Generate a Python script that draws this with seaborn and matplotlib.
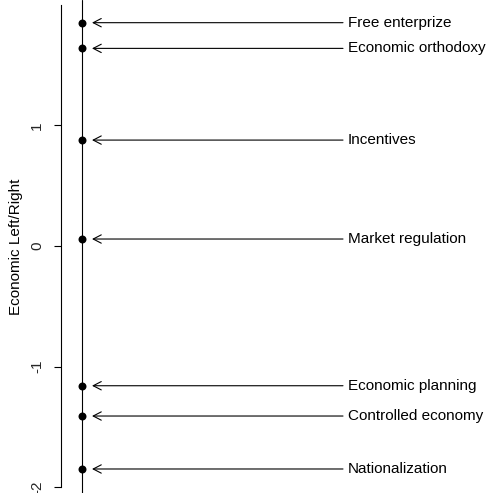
import matplotlib
matplotlib.use("Agg")
import matplotlib.pyplot as plt
import seaborn as sns
import numpy as np

labels = ["Free enterprize", "Economic orthodoxy", "Incentives", "Market regulation",
          "Economic planning", "Controlled economy", "Nationalization"]
scores = [1.851, 1.638, 0.878, 0.058, -1.158, -1.409, -1.848]
yticks = [-2, -1, 0, 1]

sns.set_theme(style="white")
plt.rcParams["font.family"] = ["Liberation Sans", "DejaVu Sans"]

fig = plt.figure(figsize=(4.9, 4.93), dpi=100)
ax = fig.add_axes([61 / 490, 0, 1 - 61 / 490, 1])

ax.axvline(0, color="black", lw=0.8, zorder=1)
sns.scatterplot(x=np.zeros(len(scores)), y=scores, color="black", s=33,
                edgecolor="black", linewidth=0, ax=ax, zorder=3)

for lab, val in zip(labels, scores):
    ax.annotate("", xy=(0.105, val), xytext=(2.615, val),
                arrowprops=dict(arrowstyle="->,head_length=0.58,head_width=0.3",
                                color="black", lw=0.8, shrinkA=0, shrinkB=0,
                                mutation_scale=10))
    ax.text(2.66, val, lab, ha="left", va="center", fontsize=11, color="black")

ax.set_xlim(-0.205, 4.085)
ax.set_ylim(-2.047, 2.039)
ax.set_xticks([])
ax.set_yticks(yticks)
ax.set_yticklabels([str(t) for t in yticks], rotation=90, va="center", fontsize=11)
ax.tick_params(axis="y", left=True, length=5.2, width=0.8, color="black", pad=7)
for s in ["top", "right", "bottom"]:
    ax.spines[s].set_visible(False)
ax.spines["left"].set_bounds(-2, 2)
ax.spines["left"].set_linewidth(0.8)
ax.spines["left"].set_color("black")
ax.set_ylabel("Economic Left/Right", fontsize=11, color="black")
ax.yaxis.set_label_coords(-0.089, 0.5)
ax.patch.set_visible(False)

fig.savefig("out.png", dpi=100)
